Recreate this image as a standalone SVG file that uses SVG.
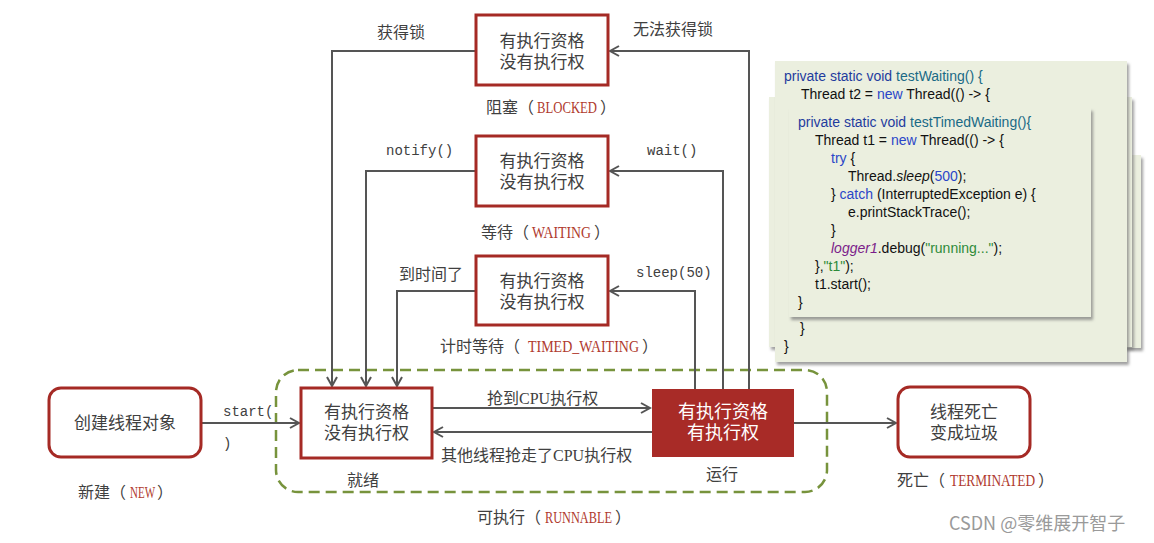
<svg xmlns="http://www.w3.org/2000/svg" width="1154" height="543" viewBox="0 0 1154 543">
<defs>
<marker id="arr" markerWidth="12" markerHeight="12" refX="10" refY="6" orient="auto" markerUnits="userSpaceOnUse">
<path d="M1,1 L10,6 L1,11" fill="none" stroke="#555" stroke-width="2"/>
</marker>
<filter id="sh" x="-5%" y="-5%" width="115%" height="115%">
<feDropShadow dx="2" dy="3" stdDeviation="1.5" flood-color="#777" flood-opacity="0.7"/>
</filter>
</defs>
<style>
.box{fill:#fff;stroke:#a52a25;stroke-width:3}
.rbox{fill:#fff;stroke:#a52a25;stroke-width:3}
.run{fill:#a82b27}
.bt{font-family:"Liberation Serif","Noto Sans CJK SC",serif;font-size:17px;fill:#404040;text-anchor:middle}
.wt{font-family:"Liberation Sans","Noto Sans CJK SC",sans-serif;font-size:18px;fill:#fff;text-anchor:middle}
.lb{font-family:"Liberation Serif","Noto Sans CJK SC",serif;font-size:16px;fill:#404040}
.en{font-family:"Liberation Serif",serif;font-size:16px;fill:#b03a2e}
.mono{font-family:"Liberation Mono",monospace;font-size:14px;fill:#404040}
.conn{fill:none;stroke:#555;stroke-width:2}
.panel{fill:#ebefdf}
.code{font-family:"Liberation Sans",Arial,sans-serif;font-size:14px;fill:#111}
.kw{fill:#1f3c9e}
.nm{fill:#1a6a86}
.nw{fill:#2a46c8}
.pu{fill:#7b1d8a;font-style:italic}
.gr{fill:#2e8b3a}
.it{font-style:italic}
</style>

<g id="code-panels">
<rect class="panel" x="1100" y="155" width="41" height="193" filter="url(#sh)"/>
<rect class="panel" x="769" y="97" width="363" height="250" filter="url(#sh)"/>
<rect class="panel" x="775" y="61" width="352" height="301" filter="url(#sh)"/>
<text class="code" x="784" y="81"><tspan class="kw">private static void </tspan><tspan class="nm">testWaiting() {</tspan></text>
<text class="code" x="801" y="99">Thread t2 = <tspan class="nw">new</tspan> Thread(() -&gt; {</text>
<text class="code" x="800" y="333">}</text>
<text class="code" x="784" y="351">}</text>
<rect class="panel" x="789" y="108" width="302" height="209" filter="url(#sh)"/>
<text class="code" x="798" y="127"><tspan class="kw">private static void </tspan><tspan class="nm">testTimedWaiting(){</tspan></text>
<text class="code" x="815" y="145">Thread t1 = <tspan class="nw">new</tspan> Thread(() -&gt; {</text>
<text class="code" x="831" y="163"><tspan class="nw">try</tspan> {</text>
<text class="code" x="848" y="181">Thread.<tspan class="it">sleep</tspan>(<tspan class="nw">500</tspan>);</text>
<text class="code" x="831" y="199">} <tspan class="nw">catch</tspan> (InterruptedException e) {</text>
<text class="code" x="848" y="217">e.printStackTrace();</text>
<text class="code" x="831" y="235">}</text>
<text class="code" x="831" y="253"><tspan class="pu">logger1</tspan>.debug(<tspan class="gr">"running..."</tspan>);</text>
<text class="code" x="815" y="271">},<tspan class="gr">"t1"</tspan>);</text>
<text class="code" x="815" y="289">t1.start();</text>
<text class="code" x="798" y="307">}</text>
</g>

<g id="runnable-group">
<rect x="276" y="370" width="551" height="122" rx="22" fill="none" stroke="#77933c" stroke-width="2.5" stroke-dasharray="11 6"/>
<text class="lb" x="477" y="523">可执行（</text>
<text class="en" x="545" y="523" textLength="67" lengthAdjust="spacingAndGlyphs">RUNNABLE</text>
<text class="lb" x="615" y="523">）</text>
</g>

<g id="connectors">
<path class="conn" d="M201,423 H299" marker-end="url(#arr)"/>
<path class="conn" d="M432,408 H650" marker-end="url(#arr)"/>
<path class="conn" d="M652,432 H434" marker-end="url(#arr)"/>
<path class="conn" d="M794,423 H896" marker-end="url(#arr)"/>
<path class="conn" d="M749,389 V51 H610" marker-end="url(#arr)"/>
<path class="conn" d="M723,389 V171 H610" marker-end="url(#arr)"/>
<path class="conn" d="M695,389 V291 H610" marker-end="url(#arr)"/>
<path class="conn" d="M476,51 H332 V386" marker-end="url(#arr)"/>
<path class="conn" d="M476,171 H366 V386" marker-end="url(#arr)"/>
<path class="conn" d="M476,291 H397 V386" marker-end="url(#arr)"/>
<text class="lb" x="377" y="38" font-size="17">获得锁</text>
<text class="lb" x="633" y="35" font-size="17">无法获得锁</text>
<text class="mono" x="386" y="155">notify()</text>
<text class="mono" x="647" y="155">wait()</text>
<text class="lb" x="399" y="280" font-size="17">到时间了</text>
<text class="mono" x="636" y="277">sleep(50)</text>
<text class="mono" x="223" y="416">start(</text>
<text class="mono" x="223" y="448">)</text>
<text class="lb" x="487" y="404" font-size="17">抢到CPU执行权</text>
<text class="lb" x="441" y="461" font-size="17">其他线程抢走了CPU执行权</text>
</g>

<g id="node-new">
<rect x="49" y="388" width="152" height="69" rx="12" class="rbox"/>
<text class="bt" x="125" y="429">创建线程对象</text>
<text class="lb" x="78" y="498">新建（</text>
<text class="en" x="130" y="498" textLength="25" lengthAdjust="spacingAndGlyphs">NEW</text>
<text class="lb" x="157" y="498">）</text>
</g>

<g id="node-ready">
<rect x="301" y="388" width="131" height="70" class="box"/>
<text class="bt" x="366.5" y="418">有执行资格</text>
<text class="bt" x="366.5" y="439">没有执行权</text>
<text class="lb" x="347" y="486">就绪</text>
</g>

<g id="node-running">
<rect x="652" y="389" width="142" height="68" class="run"/>
<text class="wt" x="723" y="418">有执行资格</text>
<text class="wt" x="723" y="439">有执行权</text>
<text class="lb" x="722" y="480" text-anchor="middle">运行</text>
</g>

<g id="node-terminated">
<rect x="898" y="387" width="132" height="70" rx="12" class="rbox"/>
<text class="bt" x="964" y="418">线程死亡</text>
<text class="bt" x="964" y="439">变成垃圾</text>
<text class="lb" x="897" y="486">死亡（</text>
<text class="en" x="950" y="486" textLength="85" lengthAdjust="spacingAndGlyphs">TERMINATED</text>
<text class="lb" x="1038" y="486">）</text>
</g>

<g id="node-blocked">
<rect x="476" y="15" width="132" height="70" class="box"/>
<text class="bt" x="542" y="47">有执行资格</text>
<text class="bt" x="542" y="68">没有执行权</text>
<text class="lb" x="486" y="113">阻塞（</text>
<text class="en" x="537" y="113" textLength="60" lengthAdjust="spacingAndGlyphs">BLOCKED</text>
<text class="lb" x="600" y="113">）</text>
</g>

<g id="node-waiting">
<rect x="476" y="136" width="132" height="70" class="box"/>
<text class="bt" x="542" y="167">有执行资格</text>
<text class="bt" x="542" y="188">没有执行权</text>
<text class="lb" x="481" y="238">等待（</text>
<text class="en" x="532" y="238" textLength="59" lengthAdjust="spacingAndGlyphs">WAITING</text>
<text class="lb" x="594" y="238">）</text>
</g>

<g id="node-timed-waiting">
<rect x="476" y="256" width="132" height="69" class="box"/>
<text class="bt" x="542" y="287">有执行资格</text>
<text class="bt" x="542" y="308">没有执行权</text>
<text class="lb" x="440" y="352">计时等待（</text>
<text class="en" x="528" y="352" textLength="111" lengthAdjust="spacingAndGlyphs">TIMED_WAITING</text>
<text class="lb" x="642" y="352">）</text>
</g>

<g id="watermark">
<text x="949" y="530" font-family="'Noto Sans CJK SC','Noto Sans',sans-serif" font-size="18" fill="#9a9a9a">CSDN @零维展开智子</text>
</g>
</svg>
